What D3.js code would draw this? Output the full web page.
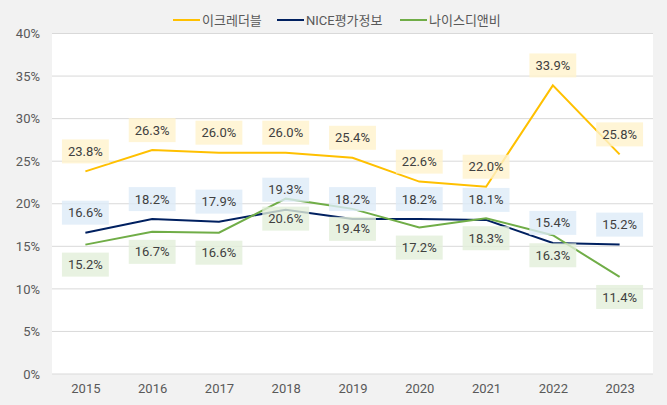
<!DOCTYPE html>
<html><head><meta charset="utf-8">
<script src="https://cdn.jsdelivr.net/npm/d3@7"></script>
<style>
body{margin:0;background:#f2f2f2;}
svg{display:block;font-family:Roboto,"Noto Sans CJK KR",sans-serif;}
</style></head>
<body><svg id="c" width="667" height="405"></svg>
<script>
const years = ["2015","2016","2017","2018","2019","2020","2021","2022","2023"];
const seriesNames = ["이크레더블","NICE평가정보","나이스디앤비"];
const ikre = [23.8,26.3,26.0,26.0,25.4,22.6,22.0,33.9,25.8];
const nice = [16.6,18.2,17.9,19.3,18.2,18.2,18.1,15.4,15.2];
const dnb  = [15.2,16.7,16.6,20.6,19.4,17.2,18.3,16.3,11.4];
const yTicks = [0,5,10,15,20,25,30,35,40];

const series = [
  {name:seriesNames[0], values:ikre, color:"#FFC000", bg:"#FFF2CC", pos:-1},
  {name:seriesNames[1], values:nice, color:"#002060", bg:"#DDEBF7", pos:-1},
  {name:seriesNames[2], values:dnb,  color:"#70AD47", bg:"#E2EFDA", pos:1}
];

const svg = d3.select("#c");
const L=52,R=653,T=33.5,B=374;
const x = d3.scalePoint().domain(years).range([L,R]).padding(0.5);
const y = d3.scaleLinear().domain([0,40]).range([B,T]);

svg.append("rect").attr("x",L).attr("y",T).attr("width",R-L).attr("height",B-T).attr("fill","#fff");

svg.append("g").selectAll("line").data(yTicks).join("line")
  .attr("x1",L).attr("x2",R).attr("y1",d=>y(d)).attr("y2",d=>y(d))
  .attr("stroke","#d9d9d9").attr("stroke-width",1);

const yAxis = d3.axisLeft(y).tickValues(yTicks).tickFormat(d=>d+"%").tickSize(0).tickPadding(12);
const gy = svg.append("g").attr("transform",`translate(${L},0)`).call(yAxis);
gy.select(".domain").remove();
gy.selectAll("text").attr("font-size",13).attr("fill","#595959").attr("font-family",'Roboto,"Noto Sans CJK KR",sans-serif');

const xAxis = d3.axisBottom(x).tickSize(0).tickPadding(10);
const gx = svg.append("g").attr("transform",`translate(0,${B})`).call(xAxis);
gx.select(".domain").remove();
gx.selectAll("text").attr("font-size",13).attr("fill","#595959").attr("font-family",'Roboto,"Noto Sans CJK KR",sans-serif');

const line = d3.line().x((d,i)=>x(years[i])).y(d=>y(d));
series.forEach(s=>{
  svg.append("path").attr("d",line(s.values)).attr("fill","none")
    .attr("stroke",s.color).attr("stroke-width",2);
});

series.forEach(s=>{
  const g = svg.append("g");
  s.values.forEach((v,i)=>{
    const cx = x(years[i]), cy = y(v) + s.pos*20;
    const lg = g.append("g");
    const t = lg.append("text").attr("x",cx).attr("y",cy).attr("dy","0.35em")
      .attr("text-anchor","middle").attr("font-size",13).attr("fill","#404040")
      .text(v.toFixed(1)+"%");
    const bb = t.node().getBBox();
    lg.insert("rect","text").attr("x",cx-bb.width/2-6).attr("y",cy-12)
      .attr("width",bb.width+12).attr("height",24).attr("fill",s.bg).attr("opacity",0.8);
  });
});

// legend
const legX = [173,277,400];
series.forEach((s,i)=>{
  svg.append("line").attr("x1",legX[i]).attr("x2",legX[i]+27).attr("y1",20).attr("y2",20)
    .attr("stroke",s.color).attr("stroke-width",2);
  svg.append("text").attr("x",legX[i]+29).attr("y",20).attr("dy","0.35em")
    .attr("font-size",13).attr("fill","#595959").text(s.name);
});
</script></body></html>
